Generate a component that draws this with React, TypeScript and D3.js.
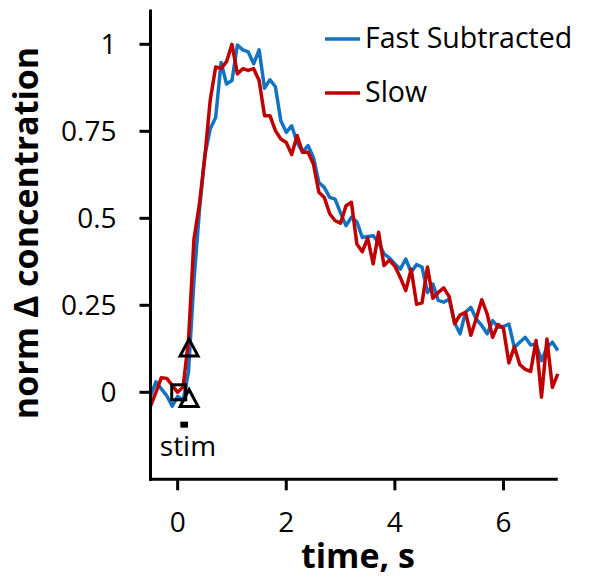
import React from "react";
import * as d3 from "d3";

const times = [
  -0.5, -0.4, -0.3, -0.2, -0.1, 0.0, 0.1, 0.2, 0.3, 0.4,
  0.5, 0.6, 0.7, 0.8, 0.9, 1.0, 1.1, 1.2, 1.3, 1.4,
  1.5, 1.6, 1.7, 1.8, 1.9, 2.0, 2.1, 2.2, 2.3, 2.4,
  2.5, 2.6, 2.7, 2.8, 2.9, 3.0, 3.1, 3.2, 3.3, 3.4,
  3.5, 3.6, 3.7, 3.8, 3.9, 4.0, 4.1, 4.2, 4.3, 4.4,
  4.5, 4.6, 4.7, 4.8, 4.9, 5.0, 5.1, 5.2, 5.3, 5.4,
  5.5, 5.6, 5.7, 5.8, 5.9, 6.0, 6.1, 6.2, 6.3, 6.4,
  6.5, 6.6, 6.7, 6.8, 6.9, 7.0,
];

const fastSubtracted = [
  -0.01, 0.03, 0.01, -0.01, -0.04, -0.012, -0.024, 0.06, 0.32, 0.52,
  0.68, 0.757, 0.79, 0.948, 0.886, 0.896, 0.998, 0.984, 0.978, 0.944,
  0.984, 0.874, 0.898, 0.878, 0.78, 0.747, 0.766, 0.718, 0.69, 0.709,
  0.675, 0.603, 0.589, 0.56, 0.555, 0.515, 0.479, 0.503, 0.49, 0.445,
  0.448, 0.45, 0.43, 0.398, 0.386, 0.369, 0.354, 0.383, 0.345, 0.367,
  0.36, 0.287, 0.311, 0.264, 0.259, 0.268, 0.2, 0.168, 0.23, 0.244,
  0.21, 0.192, 0.168, 0.206, 0.187, 0.189, 0.196, 0.129, 0.144, 0.158,
  0.136, 0.139, 0.091, 0.129, 0.144, 0.12,
];

const slow = [
  -0.04, 0.0, 0.042, 0.04, 0.02, 0.0, 0.015, 0.15, 0.44, 0.54,
  0.675, 0.84, 0.935, 0.93, 0.95, 1.0, 0.915, 0.93, 0.925, 0.93,
  0.896, 0.795, 0.795, 0.752, 0.728, 0.718, 0.683, 0.738, 0.69, 0.69,
  0.656, 0.575, 0.56, 0.513, 0.493, 0.486, 0.536, 0.546, 0.426, 0.404,
  0.443, 0.369, 0.46, 0.364, 0.38, 0.362, 0.33, 0.292, 0.354, 0.253,
  0.257, 0.36, 0.27, 0.287, 0.3, 0.275, 0.197, 0.222, 0.23, 0.164,
  0.213, 0.266, 0.225, 0.158, 0.195, 0.183, 0.084, 0.131, 0.08, 0.066,
  0.06, 0.149, -0.014, 0.153, 0.014, 0.053,
];

const seriesNames = ["Fast Subtracted", "Slow"];
const seriesColors = ["#1273c2", "#c00000"];

const xTicks = [0, 2, 4, 6];
const yTicks = [0, 0.25, 0.5, 0.75, 1];
const yTickLabels = ["0", "0.25", "0.5", "0.75", "1"];

const squareMarks = [{ t: 0.02, v: 0.0 }];
const triangleMarks = [
  { t: 0.21, v: 0.127 },
  { t: 0.21, v: -0.018 },
];
const stimBar = { start: 0.05, end: 0.19, v: -0.093 };
const stimLabel = { t: 0.19, v: -0.182, text: "stim" };

const xLabel = "time, s";
const yLabel = "norm \u0394 concentration";

const FONT = "'Open Sans', 'Noto Sans', sans-serif";

export default function App() {
  const x = d3.scaleLinear().domain([-0.5, 7]).range([150.5, 557.8]);
  const y = d3.scaleLinear().domain([-0.25, 1.1]).range([479.3, 9.5]);

  const line = d3
    .line<number>()
    .x((_, i) => x(times[i]))
    .y((d) => y(d));

  const series = [fastSubtracted, slow];
  const axisY = y(-0.25);
  const axisX = x(-0.5);

  return (
    <svg
      width={600}
      height={583}
      style={{ position: "absolute", left: 0, top: 0, background: "#fff" }}
      fontFamily={FONT}
    >
      <rect x={0} y={0} width={600} height={583} fill="#fff" />
      {/* data lines */}
      {series.map((s, k) => (
        <path
          key={k}
          d={line(s) || ""}
          fill="none"
          stroke={seriesColors[k]}
          strokeWidth={3.5}
          strokeLinejoin="round"
        />
      ))}

      {/* axes */}
      <line x1={axisX} x2={axisX} y1={y(1.1)} y2={axisY + 1.5} stroke="#000" strokeWidth={3} />
      <line x1={axisX - 1.5} x2={x(7)} y1={axisY} y2={axisY} stroke="#000" strokeWidth={3} />
      {yTicks.map((t, i) => (
        <g key={"yt" + i}>
          <line x1={axisX - 11} x2={axisX} y1={y(t)} y2={y(t)} stroke="#000" strokeWidth={3} />
          <text
            x={axisX - 34}
            y={y(t)}
            dy="0.35em"
            textAnchor="end"
            fontSize={28}
            fill="#000"
          >
            {yTickLabels[i]}
          </text>
        </g>
      ))}
      {xTicks.map((t, i) => (
        <g key={"xt" + i}>
          <line x1={x(t)} x2={x(t)} y1={axisY} y2={axisY + 11} stroke="#000" strokeWidth={3} />
          <text x={x(t)} y={532} textAnchor="middle" fontSize={28} fill="#000">
            {String(t)}
          </text>
        </g>
      ))}

      {/* axis titles */}
      <text x={358} y={568} textAnchor="middle" fontSize={34} fontWeight="bold" fill="#000">
        {xLabel}
      </text>
      <text
        transform={`translate(38, 233) rotate(-90)`}
        textAnchor="middle"
        fontSize={34}
        fontWeight="bold"
        fill="#000"
      >
        {yLabel}
      </text>

      {/* markers */}
      {squareMarks.map((m, i) => (
        <rect
          key={"sq" + i}
          x={x(m.t) - 7}
          y={y(m.v) - 7.5}
          width={14}
          height={15}
          fill="none"
          stroke="#000"
          strokeWidth={3}
        />
      ))}
      {triangleMarks.map((m, i) => {
        const cx = x(m.t);
        const cy = y(m.v);
        const pts = [
          [cx, cy - 9],
          [cx + 9, cy + 8],
          [cx - 9, cy + 8],
        ]
          .map((p) => p.join(","))
          .join(" ");
        return <polygon key={"tr" + i} points={pts} fill="none" stroke="#000" strokeWidth={3} />;
      })}
      <rect
        x={x(stimBar.start)}
        y={y(stimBar.v) - 3}
        width={x(stimBar.end) - x(stimBar.start)}
        height={6}
        fill="#000"
      />
      <text x={x(stimLabel.t)} y={y(stimLabel.v)} textAnchor="middle" fontSize={28} fill="#000">
        {stimLabel.text}
      </text>

      {/* legend */}
      {seriesNames.map((n, i) => (
        <g key={"lg" + i}>
          <line
            x1={325}
            x2={360}
            y1={39 + i * 54}
            y2={39 + i * 54}
            stroke={seriesColors[i]}
            strokeWidth={3.5}
          />
          <text x={365} y={48 + i * 54} fontSize={28.5} fill="#000">
            {n}
          </text>
        </g>
      ))}
    </svg>
  );
}
